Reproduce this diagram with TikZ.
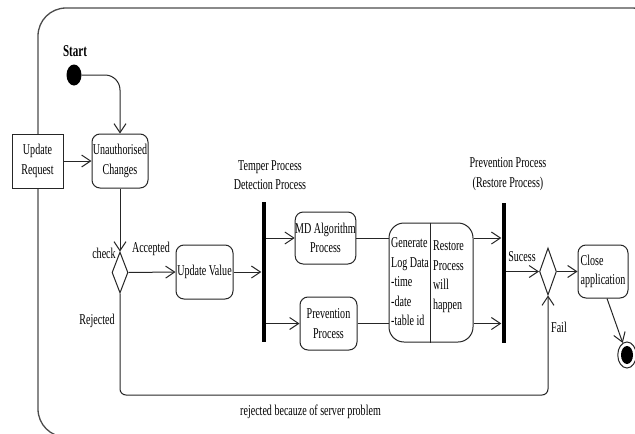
\documentclass[tikz,border=0pt]{standalone}
\usepackage{fontspec}
\setmainfont[FakeStretch=0.67]{Liberation Serif}
\usetikzlibrary{shapes.geometric,arrows.meta,calc}
\begin{document}
\begin{tikzpicture}[x=1pt,y=-1pt,
 every node/.style={font=\fontsize{15}{19.5}\selectfont},
 line/.style={draw=black!85, line width=1pt},
 arr/.style={line, -{Straight Barb[length=9pt,width=12pt]}},
 act/.style={draw=black!85, line width=1pt, rounded corners=8pt, fill=white, align=center, inner sep=0pt},
 lbl/.style={inner sep=0pt, align=center},
 bar/.style={fill=black, inner sep=0pt, minimum width=4pt, minimum height=140pt},
 dec/.style={draw=black!85, line width=1pt, diamond, inner sep=0pt, fill=white}
]
\useasboundingbox (0,0) rectangle (635,434);
\begin{scope}
\clip (0,0) rectangle (635,434);
\draw[line width=1.3pt, draw=black!70, rounded corners=28pt] (38,8) rectangle (660,437);
\end{scope}

\node[draw=black!85, line width=1pt, fill=white, minimum width=51pt, minimum height=54pt, align=center, inner sep=0pt] (upd) at (37.5,161) {Update\\Request};
\node[act, minimum width=56pt, minimum height=54pt] (unauth) at (120,161) {Unauthorised\\Changes};
\node[ellipse, fill=black, minimum width=15pt, minimum height=21pt, inner sep=0pt] (start) at (74,75) {};
\node[lbl, font=\fontsize{16.5}{19}\selectfont\bfseries] (startlbl) at (75,51) {Start};
\node[dec, minimum width=16pt, minimum height=41pt] (d1) at (120,272.5) {};
\node[act, minimum width=57pt, minimum height=54pt] (uv) at (204.5,272) {Update Value};
\node[bar] (bar1) at (263.5,272) {};
\node[act, minimum width=57pt, minimum height=52pt] (md) at (325.5,238) {MD Algorithm\\Process};
\node[act, minimum width=57pt, minimum height=53pt] (prev) at (328.5,323.5) {Prevention\\Process};
\node[act, rounded corners=15pt, minimum width=84pt, minimum height=119pt] (gen) at (431,282.5) {};
\draw[line] ([xshift=-1pt]gen.north) -- ([xshift=-1pt]gen.south);
\node[lbl, align=left, anchor=west] (genL) at (391,282) {Generate\\Log Data\\-time\\-date\\-table id};
\node[lbl, align=left, anchor=west] (genR) at (433,276.5) {Restore\\Process\\will\\happen};
\node[bar] (bar2) at (503.5,272.5) {};
\node[dec, minimum width=17pt, minimum height=47pt] (d2) at (548,271.5) {};
\node[act, minimum width=50pt, minimum height=53pt, align=left] (close) at (603,271.5) {Close\\application};
\node[ellipse, draw=black!85, line width=1pt, minimum width=18.5pt, minimum height=26pt, inner sep=0pt] (end) at (627,355) {};
\fill (end.center) ellipse [x radius=6pt, y radius=9pt];

\node[lbl] (tlbl) at (270,175) {Temper Process\\Detection Process};
\node[lbl] (plbl) at (508,174) {Prevention Process\\(Restore Process)};
\node[lbl] (check) at (104,253) {check};
\node[lbl] (acc) at (151,249) {Accepted};
\node[lbl] (rej) at (97,321) {Rejected};
\node[lbl] (suc) at (522,257) {Sucess};
\node[lbl] (fail) at (559,327) {Fail};
\node[lbl] (srv) at (310.5,412) {rejected becauze of server problem};

\coordinate (loopR) at (548,395);
\draw[arr, rounded corners=15pt] (start.east) -| (unauth.north);
\draw[arr] (upd.east) -- (unauth.west);
\draw[arr] (unauth.south) -- (d1.north);
\draw[arr] (d1.east) -- (uv.west);
\draw[arr] (uv.east) -- (bar1.west);
\draw[arr] (bar1.east |- md.west) -- (md.west);
\draw[arr] (bar1.east |- prev.west) -- (prev.west);
\draw[line] (md.east) -- (gen.west |- md.east);
\draw[line] (prev.east) -- (gen.west |- prev.east);
\draw[arr] (gen.east |- md.east) -- (bar2.west |- md.east);
\draw[arr] (gen.east |- prev.east) -- (bar2.west |- prev.east);
\draw[arr] (bar2.east |- d2.west) -- (d2.west);
\draw[arr] (d2.east) -- (close.west);
\draw[arr] ([xshift=4pt]close.south) -- (end);
\draw[arr, rounded corners=6pt] (d1.south) |- (loopR) -- (d2.south);
\end{tikzpicture}
\end{document}
